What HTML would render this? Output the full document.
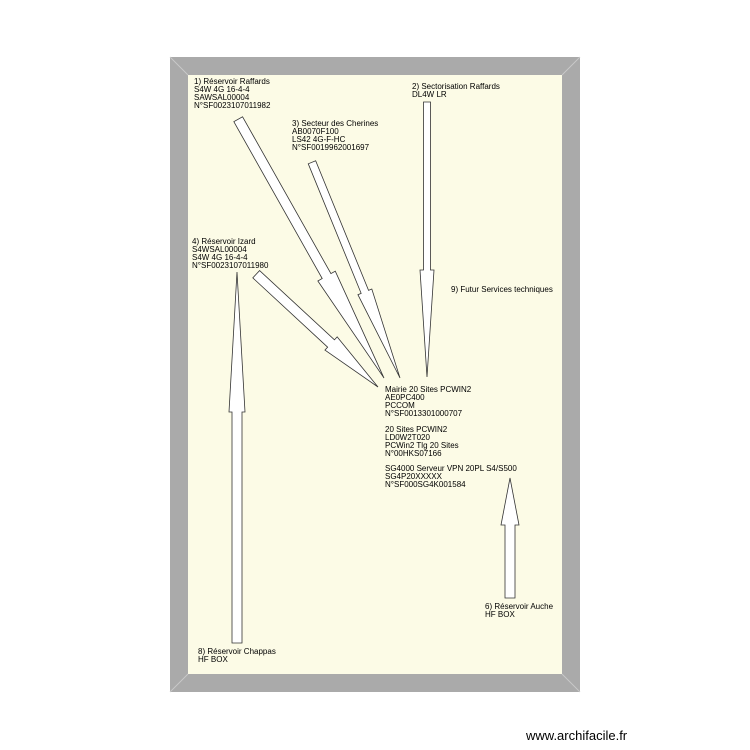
<!DOCTYPE html>
<html><head><meta charset="utf-8"><style>
html,body{margin:0;padding:0;background:#fff;}
svg{display:block;}
text{font-family:"Liberation Sans",Arial,sans-serif;font-size:8px;fill:#000;}
</style></head><body>
<svg width="750" height="750" viewBox="0 0 750 750" xmlns="http://www.w3.org/2000/svg">
<rect x="170" y="57" width="410" height="635" fill="#aaaaaa"/>
<line x1="170" y1="57" x2="188" y2="75" stroke="#c8c8c8" stroke-width="1"/>
<line x1="580" y1="57" x2="562" y2="75" stroke="#c8c8c8" stroke-width="1"/>
<line x1="170" y1="692" x2="188" y2="674" stroke="#c8c8c8" stroke-width="1"/>
<line x1="580" y1="692" x2="562" y2="674" stroke="#c8c8c8" stroke-width="1"/>
<rect x="188" y="75" width="374" height="599" fill="#fcfbe6"/>
<g fill="#fff" stroke="#333" stroke-width="0.8" stroke-linejoin="miter">
<g transform="translate(384,378) rotate(60.6)"><polygon points="0,0 -117,-10 -117,-5 -297,-5 -297,5 -117,5 -117,10"/></g>
<g transform="translate(400,378) rotate(67.8)"><polygon points="0,0 -93,-7.5 -93,-4 -233,-4 -233,4 -93,4 -93,7.5"/></g>
<g transform="translate(378,387) rotate(42.8)"><polygon points="0,0 -64,-9 -64,-5 -166,-5 -166,5 -64,5 -64,9"/></g>
<g transform="translate(427,377) rotate(90)"><polygon points="0,0 -107,-7 -107,-3.5 -275,-3.5 -275,3.5 -107,3.5 -107,7"/></g>
<g transform="translate(237,272) rotate(-90)"><polygon points="0,0 -140,-8 -140,-5 -371,-5 -371,5 -140,5 -140,8"/></g>
<g transform="translate(510,478) rotate(-90)"><polygon points="0,0 -47,-9 -47,-5 -120,-5 -120,5 -47,5 -47,9"/></g>
</g>
<text x="194" y="84">1) Réservoir Raffards</text>
<text x="194" y="92">S4W 4G 16-4-4</text>
<text x="194" y="100">SAWSAL00004</text>
<text x="194" y="108">N°SF0023107011982</text>
<text x="412" y="89">2) Sectorisation Raffards</text>
<text x="412" y="97">DL4W LR</text>
<text x="292" y="126">3) Secteur des Cherines</text>
<text x="292" y="134">AB0070F100</text>
<text x="292" y="142">LS42 4G-F-HC</text>
<text x="292" y="150">N°SF0019962001697</text>
<text x="192" y="244">4) Réservoir Izard</text>
<text x="192" y="252">S4WSAL00004</text>
<text x="192" y="260">S4W 4G 16-4-4</text>
<text x="192" y="268">N°SF0023107011980</text>
<text x="451" y="292">9) Futur Services techniques</text>
<text x="385" y="392">Mairie 20 Sites PCWIN2</text>
<text x="385" y="400">AE0PC400</text>
<text x="385" y="408">PCCOM</text>
<text x="385" y="416">N°SF0013301000707</text>
<text x="385" y="432">20 Sites PCWIN2</text>
<text x="385" y="440">LD0W2T020</text>
<text x="385" y="448">PCWin2 Tlg 20 Sites</text>
<text x="385" y="456">N°00HKS07166</text>
<text x="385" y="471">SG4000 Serveur VPN 20PL S4/S500</text>
<text x="385" y="479">SG4P20XXXXX</text>
<text x="385" y="487">N°SF000SG4K001584</text>
<text x="485" y="609">6) Réservoir Auche</text>
<text x="485" y="617">HF BOX</text>
<text x="198" y="654">8) Réservoir Chappas</text>
<text x="198" y="662">HF BOX</text>
<text x="526" y="740" style="font-size:13px">www.archifacile.fr</text>
</svg>
</body></html>
